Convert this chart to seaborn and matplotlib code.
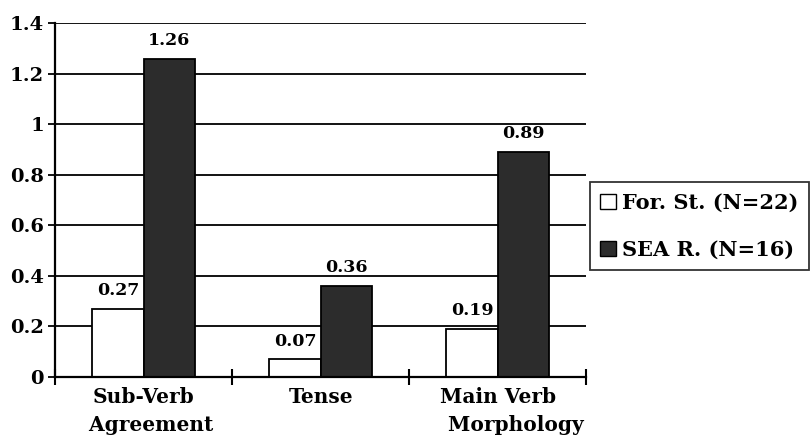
import matplotlib
matplotlib.use("Agg")
import matplotlib.pyplot as plt
import seaborn as sns
import pandas as pd
from matplotlib.patches import Patch

categories = ["Sub-Verb\n  Agreement", "Tense", "Main Verb\n     Morphology"]
groups = ["For. St. (N=22)", "SEA R. (N=16)"]
for_st = [0.27, 0.07, 0.19]
sea_r = [1.26, 0.36, 0.89]
yticks = [0, 0.2, 0.4, 0.6, 0.8, 1.0, 1.2, 1.4]
ytick_labels = ["0", "0.2", "0.4", "0.6", "0.8", "1", "1.2", "1.4"]

sns.set_style("white")
plt.rcParams["font.family"] = ["DejaVu Serif"]
plt.rcParams["font.weight"] = "bold"
plt.rcParams["text.color"] = "black"
plt.rcParams["xtick.color"] = "black"
plt.rcParams["ytick.color"] = "black"

df = pd.DataFrame({
    "cat": categories * 2,
    "group": [groups[0]] * 3 + [groups[1]] * 3,
    "val": for_st + sea_r,
})

fig = plt.figure(figsize=(8.11, 4.45), dpi=100)
ax = fig.add_axes([0.068, 0.153, 0.655, 0.795])
colors = ["white", "#2c2c2c"]

sns.barplot(data=df, x="cat", y="val", hue="group", hue_order=groups,
            palette=colors, edgecolor="black", linewidth=1.3, width=0.58,
            saturation=1, ax=ax, legend=False, zorder=3)

ax.set_ylim(0, 1.4)
ax.set_xlim(-0.5, 2.5)
ax.set_yticks(yticks)
ax.set_yticklabels(ytick_labels, fontsize=14, fontweight="bold", color="black")
for y in yticks[1:]:
    ax.axhline(y, color="black", lw=1.3, zorder=1)

ax.set_xticks([-0.5, 0.5, 1.5, 2.5])
ax.set_xticklabels([])
ax.set_xticks([0, 1, 2], minor=True)
ax.set_xticklabels(categories, minor=True, fontsize=14.5, fontweight="bold", color="black")
ax.tick_params(axis="x", which="major", bottom=True, direction="inout", length=12, width=1.5, colors="black")
ax.tick_params(axis="x", which="minor", bottom=True, length=0, pad=7)
ax.tick_params(axis="y", left=True, direction="out", length=5, width=1.3, colors="black", pad=3)
for lbl in ax.get_xticklabels(minor=True):
    lbl.set_linespacing(1.5)

for s in ["top", "right"]:
    ax.spines[s].set_visible(False)
for s in ["left", "bottom"]:
    ax.spines[s].set_color("black")
    ax.spines[s].set_linewidth(1.6)
    ax.spines[s].set_zorder(4)
ax.set_xlabel("")
ax.set_ylabel("")

for cont in ax.containers:
    ax.bar_label(cont, fmt="%.2f", padding=7, fontsize=12.5, fontweight="bold",
                 color="black", zorder=5)

handles = [Patch(facecolor=c, edgecolor="black", linewidth=1) for c in colors]
leg = fig.legend(handles, groups, loc="upper left", bbox_to_anchor=(0.727, 0.59),
                 frameon=True, fancybox=False, handlelength=0.75,
                 handleheight=0.75, handletextpad=0.3, labelspacing=1.3,
                 borderpad=0.5, borderaxespad=0, prop={"weight": "bold", "size": 15})
leg.get_frame().set_edgecolor("black")
leg.get_frame().set_linewidth(1.3)
for t in leg.get_texts():
    t.set_color("black")

fig.savefig("out.png", dpi=100)
